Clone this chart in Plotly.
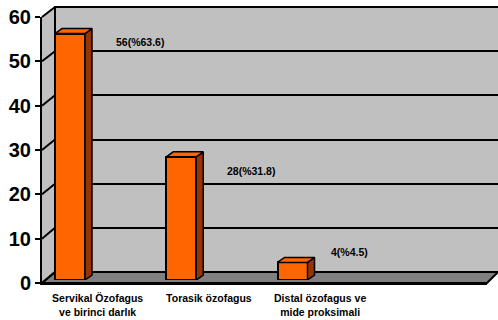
import plotly.graph_objects as go

# ---------------- data ----------------
cat_line1 = ["Servikal Özofagus", "Torasik özofagus", "Distal özofagus ve"]
cat_line2 = ["ve birinci darlık", "", "mide proksimali"]
counts = [56, 28, 4]
percents = [63.6, 31.8, 4.5]
y_ticks = [0, 10, 20, 30, 40, 50, 60]

# ---------------- geometry (pixels) ----------------
W, H = 498, 320
N_SLOTS = 4
YMAX = 60
# front plane (axes with labels)
FX0, FX1, FY0, FY1 = 42, 487, 283, 17
# back wall plane
BX0, BX1, BY0, BY1 = 55, 498, 272, 7
# bar plane
RX0, RX1, RY0, RY1 = 45, 490, 280, 16
LINE2_GAP = 17  # pixel distance between the two lines of category labels

def px(x):
    return x / W

def py(y):
    return 1 - y / H

ORANGE = "#FF6600"
SIDE = "#993300"
WALL = "#C0C0C0"
FLOOR = "#808080"
FONT = "Liberation Sans, Arial, sans-serif"

slot_px = (RX1 - RX0) / N_SLOTS
unit_px = (RY0 - RY1) / YMAX
BAR_OFF = 10 / slot_px
BAR_W = 30 / slot_px
DX = 7 / slot_px
DY = 5 / unit_px

fig = go.Figure()

xpos = list(range(len(counts)))

fig.add_trace(go.Bar(
    x=xpos, y=counts, offset=BAR_OFF, width=BAR_W,
    marker=dict(color=ORANGE, line=dict(color="black", width=2)),
    xaxis="x3", yaxis="y3", hoverinfo="skip"))

for i, v in zip(xpos, counts):
    xl, xr = i + BAR_OFF, i + BAR_OFF + BAR_W
    fig.add_trace(go.Scatter(
        x=[xr, xr + DX, xr + DX, xr, xr], y=[0, DY, v + DY, v, 0],
        fill="toself", fillcolor=SIDE, mode="lines",
        line=dict(color="black", width=1.5), xaxis="x3", yaxis="y3",
        hoverinfo="skip"))
    fig.add_trace(go.Scatter(
        x=[xl, xr, xr + DX, xl + DX, xl], y=[v, v, v + DY, v + DY, v],
        fill="toself", fillcolor=ORANGE, mode="lines",
        line=dict(color="black", width=1.5), xaxis="x3", yaxis="y3",
        hoverinfo="skip"))

# invisible anchor traces so the front and back subplots get drawn
fig.add_trace(go.Scatter(x=[None], y=[None], xaxis="x", yaxis="y",
                         showlegend=False, hoverinfo="skip"))
fig.add_trace(go.Scatter(x=[None], y=[None], xaxis="x2", yaxis="y2",
                         showlegend=False, hoverinfo="skip"))
fig.add_trace(go.Scatter(x=[None], y=[None], xaxis="x5", yaxis="y2",
                         showlegend=False, hoverinfo="skip"))

# value labels (per-label placement offsets relative to the bar)
label_offsets = [(0.854, -1.9), (0.852, -3.2), (0.733, 2.4)]
annotations = []
for i, v, p, (odx, ody) in zip(xpos, counts, percents, label_offsets):
    annotations.append(dict(
        x=i + odx, y=v + ody, xref="x3", yref="y3", showarrow=False,
        text=f"{v}(%{p})",
        font=dict(family=FONT, size=10.5, color="black", weight="bold")))

# ---------------- shapes (3D box decoration) ----------------
shapes = []
wall = [(FX0, FY1), (BX0, BY1), (BX1, BY1), (BX1, BY0), (BX0, BY0), (FX0, FY0)]
shapes.append(dict(type="path", xref="paper", yref="paper", layer="below",
                   path="M " + " L ".join(f"{px(a)},{py(b)}" for a, b in wall) + " Z",
                   fillcolor=WALL, line=dict(width=0)))
floor = [(FX0, FY0), (FX1, FY0), (BX1, BY0), (BX0, BY0)]
shapes.append(dict(type="path", xref="paper", yref="paper", layer="below",
                   path="M " + " L ".join(f"{px(a)},{py(b)}" for a, b in floor) + " Z",
                   fillcolor=FLOOR, line=dict(color="black", width=2)))
shapes.append(dict(type="path", xref="paper", yref="paper", layer="below",
                   path=f"M {px(BX1)},{py(BY1)} L {px(BX0)},{py(BY1)} L {px(BX0)},{py(BY0)}",
                   line=dict(color="black", width=2)))
for t in y_ticks:
    yf = FY0 - (FY0 - FY1) * t / YMAX
    yb = BY0 - (BY0 - BY1) * t / YMAX
    shapes.append(dict(type="line", xref="paper", yref="paper", layer="above",
                       x0=px(FX0), y0=py(yf), x1=px(BX0), y1=py(yb),
                       line=dict(color="black", width=2)))

common = dict(automargin=False, fixedrange=True, zeroline=False)
xfont = dict(family=FONT, size=10.5, color="black", weight="bold")
centers = [i + 0.5 for i in xpos]

fig.update_layout(
    width=W, height=H,
    margin=dict(l=0, r=0, t=0, b=0, autoexpand=False),
    paper_bgcolor="white", plot_bgcolor="rgba(0,0,0,0)",
    showlegend=False, bargap=0,
    shapes=shapes, annotations=annotations,
    # back wall axes (grid)
    xaxis=dict(domain=[px(BX0), px(BX1)], range=[0, N_SLOTS], anchor="y",
               showgrid=False, showline=False,
               showticklabels=False, ticks="", **common),
    yaxis=dict(domain=[py(BY0), py(BY1)], range=[0, YMAX], anchor="x",
               tickmode="array", tickvals=y_ticks[1:-1], showgrid=True,
               gridcolor="black", gridwidth=2, showline=False,
               showticklabels=False, ticks="", **common),
    # front axes (labels, first line of category names)
    xaxis2=dict(domain=[px(FX0), px(FX1)], range=[0, N_SLOTS], anchor="y2",
                showline=True, linecolor="black", linewidth=2,
                tickmode="array", tickvals=centers, ticktext=cat_line1,
                ticks="", showgrid=False, ticklabelstandoff=4,
                tickfont=xfont, **common),
    yaxis2=dict(domain=[py(FY0), py(FY1)], range=[0, YMAX], anchor="x2",
                showline=True, linecolor="black", linewidth=2,
                tickmode="array", tickvals=y_ticks, ticks="outside", ticklen=5,
                tickwidth=2, tickcolor="black", showgrid=False,
                tickfont=dict(family=FONT, size=20, color="black", weight="bold"),
                **common),
    # category boundary tick marks
    xaxis4=dict(overlaying="x2", anchor="y2", side="bottom",
                range=[0, N_SLOTS], tickmode="array",
                tickvals=list(range(N_SLOTS + 1)), ticks="outside", ticklen=5,
                tickwidth=2, tickcolor="black", showticklabels=False,
                showline=False, showgrid=False, **common),
    # second line of category names
    xaxis5=dict(overlaying="x2", anchor="free", position=py(FY0 + LINE2_GAP),
                side="bottom", range=[0, N_SLOTS], tickmode="array",
                tickvals=centers, ticktext=cat_line2, ticks="",
                showline=False, showgrid=False, ticklabelstandoff=4,
                tickfont=xfont, **common),
    # bar plane axes
    xaxis3=dict(domain=[px(RX0), px(RX1)], range=[0, N_SLOTS], anchor="y3",
                visible=False, **common),
    yaxis3=dict(domain=[py(RY0), py(RY1)], range=[0, YMAX], anchor="x3",
                visible=False, **common),
)

fig.write_html("out.html")
